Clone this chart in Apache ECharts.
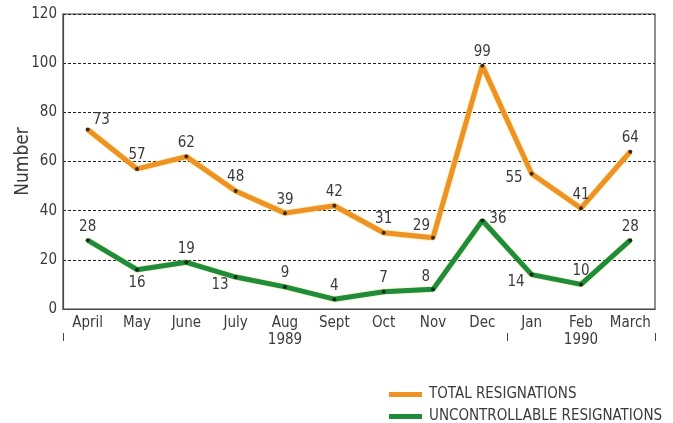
<!DOCTYPE html>
<html>
<head>
<meta charset="utf-8">
<script src="https://cdn.jsdelivr.net/npm/echarts@6/dist/echarts.min.js"></script>
<style>
  html, body { margin: 0; padding: 0; background: #fff; }
  #chart { width: 673px; height: 423px; }
</style>
</head>
<body>
<div id="chart"></div>
<script>
// Monthly resignations, April 1989 - March 1990
const months = ['April', 'May', 'June', 'July', 'Aug\n1989', 'Sept', 'Oct', 'Nov', 'Dec', 'Jan', 'Feb\n1990', 'March'];
const totalResignations = [73, 57, 62, 48, 39, 42, 31, 29, 99, 55, 41, 64];
const uncontrollableResignations = [28, 16, 19, 13, 9, 4, 7, 8, 36, 14, 10, 28];
const yTicks = [0, 20, 40, 60, 80, 100, 120];
const seriesNames = ['TOTAL RESIGNATIONS', 'UNCONTROLLABLE RESIGNATIONS'];
const yAxisTitle = 'Number';

// Where each value label sits relative to its point
const totalLabelPlace = ['topRight', 'top', 'top', 'top', 'top', 'top', 'top', 'topLeft', 'top', 'left', 'top', 'top'];
const uncontrolledLabelPlace = ['top', 'bottom', 'top', 'bottomLeft', 'top', 'top', 'top', 'topLeft', 'right', 'bottomLeft', 'top', 'top'];

const FONT = '"DejaVu Sans Condensed", "Liberation Sans Narrow", "Liberation Sans", Arial, sans-serif';
const ORANGE = '#ee9223';
const GREEN = '#1f8c3b';
const TEXT = '#3a3a3a';

function labelFor(place) {
  const base = { show: true, color: TEXT, fontSize: 15, fontFamily: FONT };
  switch (place) {
    case 'topRight': return Object.assign(base, { position: 'right', offset: [-2, -9] });
    case 'topLeft': return Object.assign(base, { position: 'left', offset: [4, -12] });
    case 'left': return Object.assign(base, { position: 'left', offset: [-2, 4] });
    case 'bottomLeft': return Object.assign(base, { position: 'left', offset: [0, 8] });
    case 'right': return Object.assign(base, { position: 'right', offset: [0, -1] });
    case 'bottom': return Object.assign(base, { position: 'bottom', distance: 4 });
    default: return Object.assign(base, { position: 'top', distance: 4 });
  }
}

function buildData(values, places) {
  return values.map((v, i) => ({ value: v, label: labelFor(places[i]) }));
}

function legendRow(name, color, top) {
  return {
    left: 384,
    top: top,
    itemWidth: 33,
    itemHeight: 5,
    itemGap: 8,
    icon: 'rect',
    textStyle: { color: TEXT, fontSize: 15, fontFamily: FONT, padding: [0, 0, 0, 2] },
    data: [{ name: name, itemStyle: { color: color } }]
  };
}

const chart = echarts.init(document.getElementById('chart'));

chart.setOption({
  backgroundColor: '#fff',
  animation: false,
  grid: {
    left: 63, right: 18, top: 14, bottom: 114,
    containLabel: false,
    outerBoundsMode: 'none',
    show: true, borderColor: '#444', borderWidth: 1.2, backgroundColor: 'transparent'
  },
  legend: [
    legendRow(seriesNames[0], ORANGE, 382),
    legendRow(seriesNames[1], GREEN, 404)
  ],
  xAxis: {
    type: 'category',
    data: months,
    boundaryGap: true,
    axisLine: { lineStyle: { color: '#444', width: 1.2 } },
    axisTick: { inside: true, alignWithLabel: true, length: 6, lineStyle: { color: '#444' } },
    axisLabel: { color: TEXT, fontSize: 15, fontFamily: FONT, margin: 6, lineHeight: 17, interval: 0 }
  },
  yAxis: {
    type: 'value',
    min: yTicks[0],
    max: yTicks[yTicks.length - 1],
    interval: yTicks[1] - yTicks[0],
    axisLine: { show: true, lineStyle: { color: '#444', width: 1.2 } },
    axisTick: { show: false },
    axisLabel: { color: TEXT, fontSize: 15, fontFamily: FONT, margin: 6 },
    splitLine: { lineStyle: { color: '#222', type: [3, 2], width: 1 } }
  },
  series: [
    {
      name: seriesNames[0],
      type: 'line',
      data: buildData(totalResignations, totalLabelPlace),
      color: ORANGE,
      lineStyle: { color: ORANGE, width: 5, shadowColor: 'rgba(240,200,40,0.7)', shadowBlur: 2 },
      symbol: 'circle',
      symbolSize: 4,
      itemStyle: { color: '#3a2a1a', borderWidth: 0 },
      z: 3
    },
    {
      name: seriesNames[1],
      type: 'line',
      data: buildData(uncontrollableResignations, uncontrolledLabelPlace),
      color: GREEN,
      lineStyle: { color: GREEN, width: 5, shadowColor: 'rgba(200,210,40,0.6)', shadowBlur: 2 },
      symbol: 'circle',
      symbolSize: 4,
      itemStyle: { color: '#1a2a1a', borderWidth: 0 },
      z: 3
    }
  ]
});

// Year separator marks below the month labels, and the rotated y-axis title
const x0 = chart.convertToPixel({ xAxisIndex: 0 }, months[0]);
const x1 = chart.convertToPixel({ xAxisIndex: 0 }, months[1]);
const half = (x1 - x0) / 2;
const decX = chart.convertToPixel({ xAxisIndex: 0 }, 'Dec');
const lastX = chart.convertToPixel({ xAxisIndex: 0 }, months[months.length - 1]);
const yBase = chart.convertToPixel({ yAxisIndex: 0 }, yTicks[0]);
const yTop = chart.convertToPixel({ yAxisIndex: 0 }, yTicks[yTicks.length - 1]);
const seps = [x0 - half, decX + half, lastX + half];

const graphics = seps.map(x => ({
  type: 'line',
  shape: { x1: Math.round(x) + 0.5, y1: yBase + 24, x2: Math.round(x) + 0.5, y2: yBase + 32 },
  style: { stroke: '#444', lineWidth: 1 }
}));
graphics.push({
  type: 'text',
  x: x0 - half - 40,
  y: (yBase + yTop) / 2,
  rotation: Math.PI / 2,
  style: {
    text: yAxisTitle,
    fill: TEXT,
    font: '19px ' + FONT,
    align: 'center',
    verticalAlign: 'middle'
  }
});
chart.setOption({ graphic: graphics });
</script>
</body>
</html>
